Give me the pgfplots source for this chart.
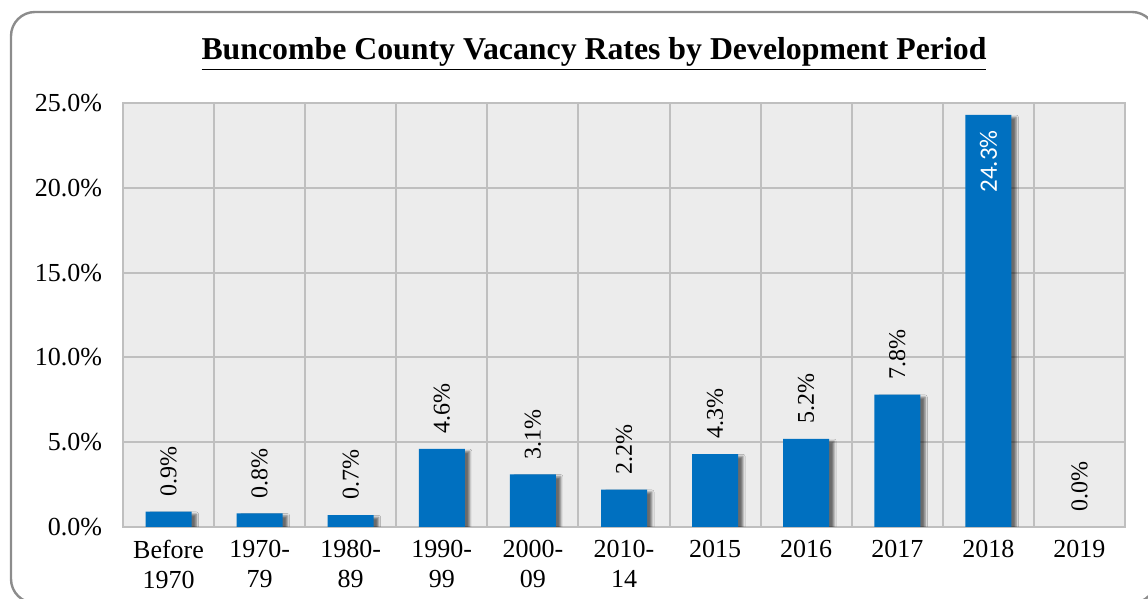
\documentclass[border=0pt]{standalone}
\usepackage{fontspec}
\setmainfont{Liberation Serif}
\newfontfamily\calibri{Carlito}
\usepackage{pgfplots}
\pgfplotsset{compat=1.18}
\usetikzlibrary{shadows.blur}
\definecolor{barblue}{HTML}{0070C0}
\definecolor{plotbg}{HTML}{ECECEC}
\definecolor{gridgray}{HTML}{BFBFBF}
\definecolor{framegray}{HTML}{8C8C8C}
\begin{document}
\begin{tikzpicture}
\path[use as bounding box] (0,0) rectangle (574pt,299.5pt);
\begin{scope}
\clip (0,0) rectangle (574pt,299.5pt);
\draw[framegray, line width=1.2pt, rounded corners=12pt] (5.5pt,-2pt) rectangle (578pt,293.5pt);
\end{scope}
\node[anchor=base, inner sep=0pt, font=\fontsize{15.9}{18}\selectfont\bfseries] at (297pt,269.5pt) {\underline{Buncombe County Vacancy Rates by Development Period}};
\begin{axis}[at={(61.5pt,36pt)}, anchor=south west, width=501pt, height=212pt, scale only axis,
 xmin=-0.5, xmax=10.5, ymin=0, ymax=25,
 axis background/.style={fill=plotbg},
 axis line style={gridgray, line width=1pt},
 xtick={0,...,10},
 xticklabels={{Before\\1970},{1970-\\79},{1980-\\89},{1990-\\99},{2000-\\09},{2010-\\14},{2015},{2016},{2017},{2018},{2019}},
 minor xtick={-0.5,0.5,...,10.5},
 xminorgrids, ymajorgrids,
 major grid style={gridgray, line width=1pt},
 minor grid style={gridgray, line width=1pt},
 major tick length=0, minor tick length=0,
 ytick={0,5,...,25},
 /pgf/number format/assume math mode=true,
 yticklabel={\pgfmathprintnumber[fixed,fixed zerofill,precision=1]{\tick}\%},
 ticklabel style={font=\fontsize{13}{15}\selectfont},
 xticklabel style={align=center, yshift=-3pt},
 yticklabel style={xshift=-7pt},
]
\addplot[ybar, bar width=23pt, fill=barblue, draw=none,
  blur shadow={shadow xshift=2.4pt, shadow yshift=-1.2pt, shadow blur radius=1.1pt, shadow opacity=55}]
  coordinates {(0,0.9) (1,0.8) (2,0.7) (3,4.6) (4,3.1) (5,2.2) (6,4.3) (7,5.2) (8,7.8) (9,24.3)};
\addplot[draw=none, mark=none, point meta=explicit symbolic,
  nodes near coords={\pgfplotspointmeta},
  every node near coord/.append style={rotate=90, anchor=east, inner xsep=7.5pt, inner ysep=0pt, white, font=\calibri\fontsize{12.5}{14}\selectfont}]
  coordinates {(9,24.3)[24.3\%]};
\addplot[draw=none, mark=none, point meta=explicit symbolic,
  nodes near coords={\pgfplotspointmeta},
  every node near coord/.append style={rotate=90, anchor=west, inner xsep=7.5pt, inner ysep=0pt, black, font=\rmfamily\fontsize{12}{14}\selectfont}]
  coordinates {(0,0.9)[0.9\%] (1,0.8)[0.8\%] (2,0.7)[0.7\%] (3,4.6)[4.6\%] (4,3.1)[3.1\%] (5,2.2)[2.2\%] (6,4.3)[4.3\%] (7,5.2)[5.2\%] (8,7.8)[7.8\%] (10,0)[0.0\%]};
\end{axis}
\end{tikzpicture}
\end{document}
